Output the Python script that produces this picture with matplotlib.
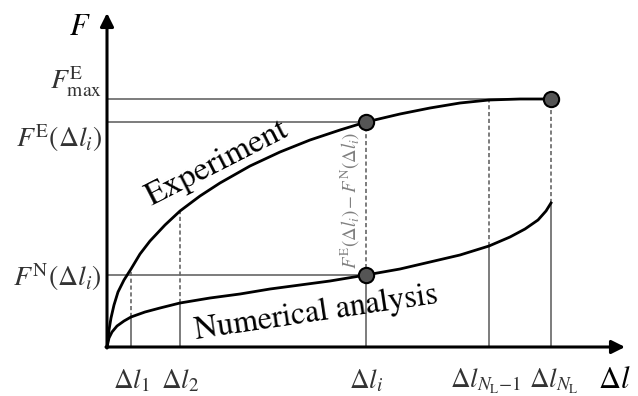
import matplotlib.pyplot as plt

plt.rcParams['mathtext.fontset'] = 'stix'
plt.rcParams['font.family'] = 'STIXGeneral'

# curves (x = elongation, y = force, arbitrary units)
exp_x = [0, 2, 4, 7, 11, 17, 24, 33, 43, 58, 73, 93, 113, 143, 173, 203, 233, 259, 293, 323, 353, 382, 413, 444]
exp_y = [0, 17, 29, 42, 55, 67, 78, 93, 106, 122, 136, 151, 164, 181, 195, 207, 217, 225, 233, 239, 244, 247, 248, 248]
num_x = [0, 2, 5, 10, 17, 24, 38, 53, 73, 103, 133, 163, 193, 223, 259, 293, 323, 353, 382, 403, 418, 431, 439, 444]
num_y = [0, 9, 15, 21, 26, 30, 35, 39, 44, 49, 53, 58, 62, 66, 72, 78, 85, 92, 101, 110, 118, 127, 136, 144]

# elongation steps and the curve values at them
dl_ticks = [24, 73, 259, 382, 444]
dl_labels = [r'$\Delta l_1$', r'$\Delta l_2$', r'$\Delta l_i$',
             r'$\Delta l_{N_\mathrm{L}{-}1}$', r'$\Delta l_{N_\mathrm{L}}$']
exp_at = [78, 136, 225, 247, 248]
num_at = [30, 44, 72, 101, 144]

f_max = 248
fe_i = 225
fn_i = 72
dl_i = 259
dl_max = 444

gray = '#666666'
txt = '#333333'

fig = plt.figure(figsize=(6.38, 3.96), dpi=100)
ax = fig.add_axes([0, 0, 1, 1])
ax.set_xlim(-107, 531)
ax.set_ylim(-49, 347)
ax.axis('off')

# horizontal guide lines
ax.plot([0, dl_max], [f_max, f_max], color=gray, lw=1.2, zorder=2)
ax.plot([0, dl_i], [fe_i, fe_i], color=gray, lw=1.2, zorder=2)
ax.plot([0, dl_i], [fn_i, fn_i], color=gray, lw=1.2, zorder=2)

# vertical guide lines: solid under the numerical curve, dashed between curves
for x, e, n in zip(dl_ticks, exp_at, num_at):
    ax.plot([x, x], [0, n], color=gray, lw=1.2, zorder=2)
    ax.plot([x, x], [n, e], color=gray, lw=1.2, ls=(0, (2.5, 1.6)), zorder=2)

ax.plot(exp_x, exp_y, color='black', lw=2.0, zorder=3)
ax.plot(num_x, num_y, color='black', lw=2.0, zorder=3)

ax.plot([dl_i, dl_i, dl_max], [fe_i, fn_i, f_max], 'o', ms=11,
        mfc='#555555', mec='black', mew=1.5, zorder=5)

# axes with arrow heads
arrow = dict(arrowstyle='-|>', lw=2.2, color='black', mutation_scale=20,
             shrinkA=0, shrinkB=0)
ax.annotate('', xy=(518, 0), xytext=(-1, 0), arrowprops=arrow, zorder=4)
ax.annotate('', xy=(0, 334), xytext=(0, -1), arrowprops=arrow, zorder=4)

ax.text(-27, 312, r'$F$', fontsize=22, ha='center', va='baseline')
ax.text(507, -41, r'$\Delta l$', fontsize=22, ha='center', va='baseline')

# the last two labels sit close together, nudge them apart a little
shifts = [0, 0, 0, -3, 3]
for x, lab, dx in zip(dl_ticks, dl_labels, shifts):
    ax.text(x + dx, -41, lab, fontsize=19.5, ha='center', va='baseline', color=txt)

ax.text(-5, 257, r'$F^{\mathrm{E}}_{\max}$', fontsize=20, ha='right', va='baseline', color=txt)
ax.text(-5, 200, r'$F^{\mathrm{E}}(\Delta l_i)$', fontsize=20, ha='right', va='baseline', color=txt)
ax.text(-5, 61, r'$F^{\mathrm{N}}(\Delta l_i)$', fontsize=20, ha='right', va='baseline', color=txt)

ax.text(243, 147, r'$F^{\mathrm{E}}(\Delta l_i)-F^{\mathrm{N}}(\Delta l_i)$', fontsize=13.5,
        rotation=90, ha='center', va='center', color='#808080')

ax.text(114, 177, 'Experiment', fontsize=24, rotation=27, ha='center', va='baseline',
        rotation_mode='anchor')
ax.text(209, 34, 'Numerical analysis', fontsize=23, rotation=8.5, ha='center', va='center',
        rotation_mode='anchor')

fig.savefig('out.png', dpi=100)
